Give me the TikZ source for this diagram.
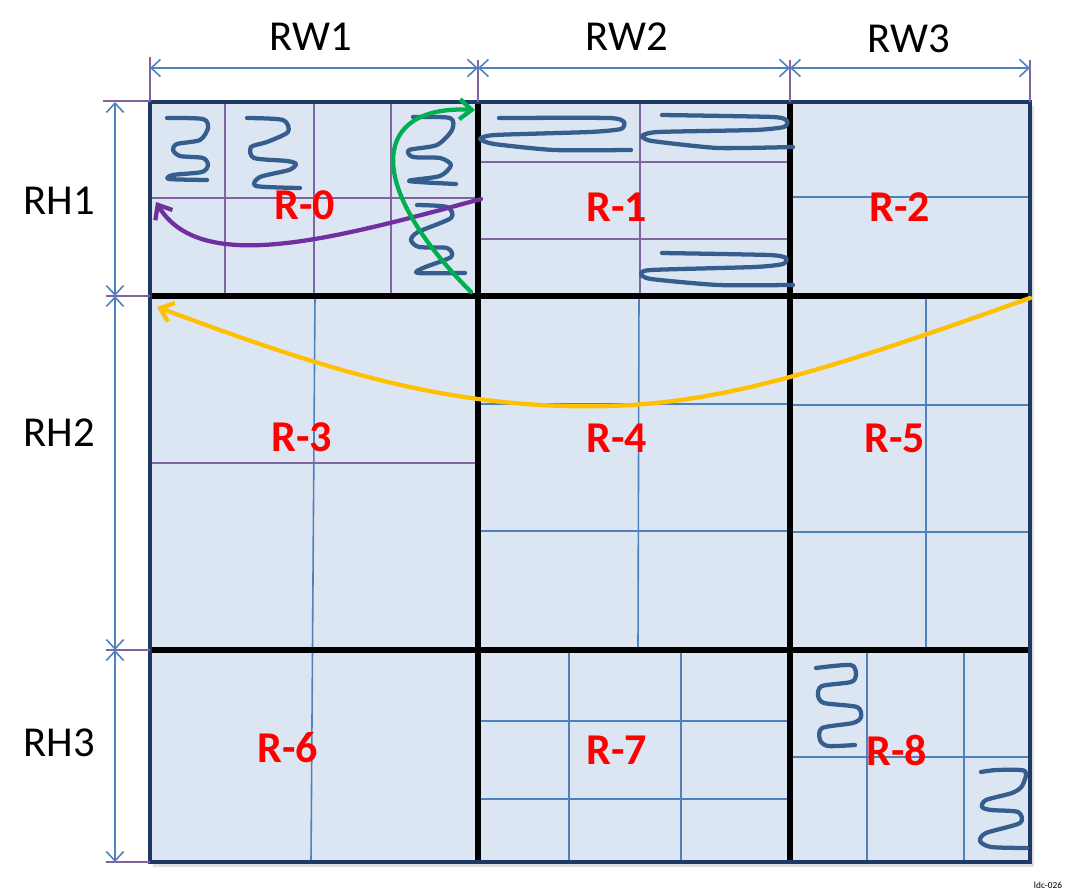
\documentclass[tikz,border=0pt]{standalone}
\usepackage{fontspec}
\setmainfont{Carlito}
\usetikzlibrary{arrows.meta}
\definecolor{cellfill}{HTML}{DCE6F2}
\definecolor{navy}{HTML}{1F3864}
\definecolor{dimblue}{HTML}{4F81BD}
\definecolor{gridpurple}{HTML}{8064A2}
\definecolor{sqblue}{HTML}{355E8F}
\definecolor{arrpurple}{HTML}{7030A0}
\definecolor{arrgreen}{HTML}{00B050}
\definecolor{arryellow}{HTML}{FFC000}
\definecolor{labelred}{HTML}{FF0000}
\begin{document}
\begin{tikzpicture}[x=0.75pt,y=-0.75pt,
  subp/.style={gridpurple, line width=1.3pt},
  subb/.style={dimblue, line width=1.2pt},
  heavy/.style={black, line width=3.8pt},
  squig/.style={sqblue, line width=3.2pt, line cap=round, line join=round},
  dimarrow/.style={dimblue, line width=1.2pt, {Straight Barb[length=7pt,width=13pt]}-{Straight Barb[length=7pt,width=13pt]}},
  extline/.style={gridpurple, line width=1.1pt},
  bigarrow/.style={line width=3.2pt, line cap=round, -{Straight Barb[length=9pt,width=15pt]}},
  rlabel/.style={text=labelred, font=\fontsize{33}{35}\selectfont\bfseries, inner sep=0pt},
  dimlabel/.style={font=\fontsize{32}{36}\selectfont, inner sep=0pt}]
\useasboundingbox (0,0) rectangle (1065,892);

% grid corner coordinates
\coordinate (TL) at (150,102);
\coordinate (BR) at (1030,862);

% shadow and fill
\fill[black!12] (153,106) rectangle (1034,867);
\fill[cellfill] (TL) rectangle (BR);

% sub-grid: R-0
\draw[subp] (225,102) -- (225,296);
\draw[subp] (314,102) -- (314,296);
\draw[subp] (391,102) -- (391,296);
\draw[subp] (150,198) -- (478,198);
% R-1
\draw[subp] (640,102) -- (640,296);
\draw[subp] (478,162) -- (790,162);
\draw[subp] (478,239) -- (790,239);
% R-2
\draw[subb] (790,197) -- (1030,197);
% R-3 / R-6
\draw[subb] (315,296) -- (311,862);
\draw[subp, line width=2pt] (150,463) -- (478,463);
% R-4 / R-5
\draw[subb] (639,296) -- (638,650);
\draw[subb] (926,296) -- (926,650);
\draw[subb] (478,404) -- (790,404);
\draw[subb] (790,405) -- (1030,405);
\draw[subb] (478,531) -- (790,531);
\draw[subb] (790,532) -- (1030,532);
% R-7
\draw[subb] (569,650) -- (569,862);
\draw[subb] (681,650) -- (681,862);
\draw[subb] (478,721) -- (790,721);
\draw[subb] (478,799) -- (790,799);
% R-8
\draw[subb] (867,650) -- (867,862);
\draw[subb] (964,650) -- (964,862);
\draw[subb] (790,757) -- (1030,757);

% heavy lines
\draw[heavy] (150,296) -- (1030,296);
\draw[heavy] (150,650) -- (1030,650);
\draw[heavy] (478,102) -- (478,862);
\draw[heavy] (790,102) -- (790,862);
% outer border
\draw[navy, line width=2.4pt] (TL) rectangle (BR);

% squiggles R-0
\draw[squig] plot[smooth, tension=0.45] coordinates {(167,118) (203,119) (208,128) (200,140) (177,144) (173,150) (180,156) (203,158) (208,165) (202,172) (173,175) (169,179) (207,180)};
\draw[squig] plot[smooth, tension=0.45] coordinates {(247,118) (283,120) (288,132) (267,142) (251,147) (254,158) (287,161) (296,164) (289,170) (260,177) (256,186) (300,188)};
\draw[squig] plot[smooth, tension=0.45] coordinates {(413,117) (450,118) (452,130) (437,145) (409,150) (413,157) (440,158) (451,165) (440,176) (409,181) (456,184)};
\draw[squig] plot[smooth, tension=0.45] coordinates {(417,205) (447,207) (451,218) (418,232) (411,240) (419,247) (447,248) (451,257) (423,268) (418,273) (465,273)};
% squiggles R-1
\draw[squig] plot[smooth, tension=0.35] coordinates {(499,118) (609,118) (624,122) (621,129) (590,132) (495,135) (480,139) (494,144) (554,150) (631,150)};
\draw[squig] plot[smooth, tension=0.35] coordinates {(662,115) (773,117) (787,121) (784,127) (755,130) (658,132) (642,136) (652,141) (718,148) (793,147)};
\draw[squig] plot[smooth, tension=0.35] coordinates {(662,253) (769,255) (786,258) (783,264) (755,267) (651,270) (641,274) (651,279) (718,285) (793,285)};
% squiggles R-8
\draw[squig] plot[smooth, tension=0.45] coordinates {(816,668) (851,665) (856,675) (851,682) (822,686) (818,695) (824,703) (857,707) (861,717) (853,723) (822,728) (820,740) (828,746) (855,745)};
\draw[squig] plot[smooth, tension=0.45] coordinates {(981,772) (997,770) (1025,771) (1022,786) (1012,793) (986,800) (982,807) (991,810) (1018,812) (1020,823) (986,833) (980,841) (991,847) (1027,848)};

% region labels
\node[rlabel] (r0) at (305,205) {R-0};
\node[rlabel] (r1) at (617,207) {R-1};
\node[rlabel] (r2) at (900,207) {R-2};
\node[rlabel] (r3) at (302,437) {R-3};
\node[rlabel] (r4) at (617,438) {R-4};
\node[rlabel] (r5) at (895,438) {R-5};
\node[rlabel] (r6) at (288,748) {R-6};
\node[rlabel] (r7) at (617,750) {R-7};
\node[rlabel] (r8) at (897,750) {R-8};

% movement arrows
\coordinate (pS) at (481,199);
\coordinate (pE) at (156,202);
\draw[bigarrow, arrpurple] (pS) .. controls (330,240) and (200,275) .. (pE);
\coordinate (gS) at (471,292);
\coordinate (gE) at (475,110);
\draw[bigarrow, arrgreen] (gS) .. controls (360,180) and (375,105) .. (gE);
\coordinate (yS) at (1030,298);
\coordinate (yM) at (564,406);
\coordinate (yE) at (157,307);
\draw[bigarrow, arryellow] (yS) .. controls (800,380) and (700,410) .. (yM) .. controls (420,402) and (300,360) .. (yE);

% extension lines
\draw[extline] (150,57) -- (150,102);
\draw[extline] (478,60) -- (478,102);
\draw[extline] (790,60) -- (790,102);
\draw[extline] (1030,60) -- (1030,102);
\draw[extline] (103,101) -- (150,101);
\draw[extline] (106,296) -- (150,296);
\draw[extline] (106,650) -- (150,650);
\draw[extline] (106,862) -- (150,862);

% dimension arrows
\coordinate (w0) at (150,68);
\coordinate (w1) at (478,68);
\coordinate (w2) at (790,68);
\coordinate (w3) at (1030,68);
\draw[dimarrow] (w0) -- (w1);
\draw[dimarrow] (w1) -- (w2);
\draw[dimarrow] (w2) -- (w3);
\coordinate (h0) at (115,102);
\coordinate (h1) at (115,296);
\coordinate (h2) at (115,650);
\coordinate (h3) at (115,862);
\draw[dimarrow] (h0) -- (h1);
\draw[dimarrow] (h1) -- (h2);
\draw[dimarrow] (h2) -- (h3);

% dimension labels
\node[dimlabel] (rw1) at (311,37) {RW1};
\node[dimlabel] (rw2) at (627,37) {RW2};
\node[dimlabel] (rw3) at (909,39) {RW3};
\node[dimlabel] (rh1) at (59,201) {RH1};
\node[dimlabel] (rh2) at (59,433) {RH2};
\node[dimlabel] (rh3) at (59,743) {RH3};

% figure id
\node[font=\fontsize{7}{8}\selectfont, inner sep=0pt] (fid) at (1048,885) {ldc-026};
\end{tikzpicture}
\end{document}
